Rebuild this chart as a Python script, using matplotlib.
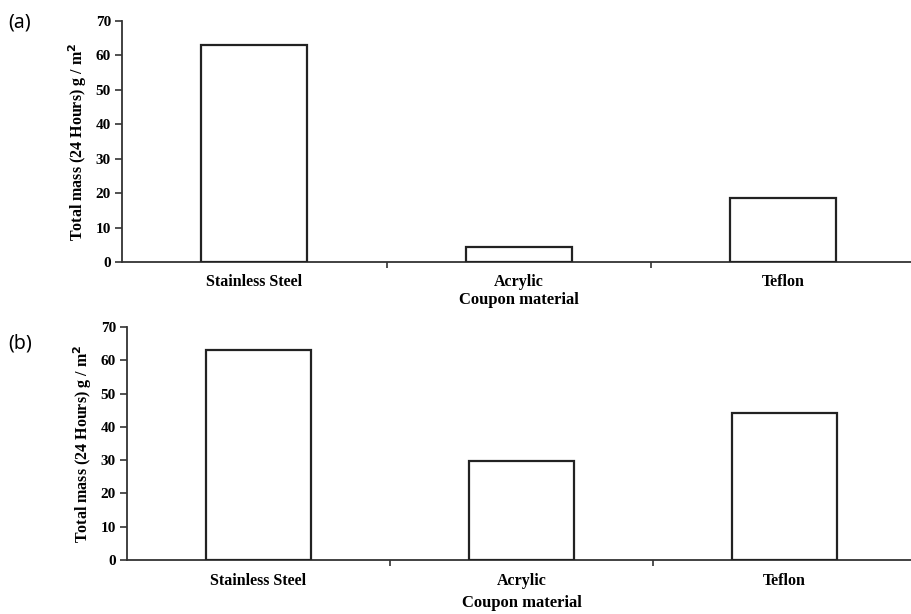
import numpy as np
import matplotlib
matplotlib.use('Agg')
from matplotlib import pyplot as plt

materials = ['Stainless Steel', 'Acrylic', 'Teflon']
mass_a = [63.0, 4.3, 18.5]
mass_b = [63.0, 29.6, 44.1]
yticks = [0, 10, 20, 30, 40, 50, 60, 70]

plt.rcParams['font.family'] = ['Liberation Serif', 'DejaVu Serif']

fig = plt.figure(figsize=(9.12, 6.14), dpi=100)
ax_a = fig.add_axes([0.1338, 0.5733, 0.8700, 0.3925])
ax_b = fig.add_axes([0.1393, 0.0879, 0.8650, 0.3795])


def draw_panel(ax, values, xlabel_pad):
    x = np.arange(len(materials))
    ax.bar(x, values, width=0.40, color='white', edgecolor='#222222', linewidth=1.6, zorder=3)
    ax.set_xlim(-0.5, 2.5)
    ax.set_ylim(0, 70)
    ax.set_yticks(yticks)
    ax.set_yticklabels([str(t) for t in yticks], fontweight='bold', fontsize=11)
    ax.set_xticks(x)
    ax.set_xticklabels(materials, fontweight='bold', fontsize=11.5)
    ax.set_xticks([0.5, 1.5], minor=True)
    ax.tick_params(axis='x', which='major', length=0, pad=9)
    ax.tick_params(axis='x', which='minor', length=4, width=1.2, direction='out', color='#333333')
    ax.tick_params(axis='y', length=5, width=1.2, direction='out', color='#333333', pad=3)
    for side in ['top', 'right']:
        ax.spines[side].set_visible(False)
    for side in ['left', 'bottom']:
        ax.spines[side].set_linewidth(1.3)
        ax.spines[side].set_color('#333333')
    ax.set_ylabel('Total mass (24 Hours) g / m$^\\mathbf{2}$', fontweight='bold', fontsize=11.5, labelpad=5)
    ax.set_xlabel('Coupon material', fontweight='bold', fontsize=12, labelpad=xlabel_pad)


draw_panel(ax_a, mass_a, 1)
draw_panel(ax_b, mass_b, 5)

fig.text(0.009, 0.963, '(a)', fontsize=14, family=['Noto Sans', 'DejaVu Sans'], va='center')
fig.text(0.009, 0.440, '(b)', fontsize=14, family=['Noto Sans', 'DejaVu Sans'], va='center')

plt.savefig('out.png', dpi=100)
